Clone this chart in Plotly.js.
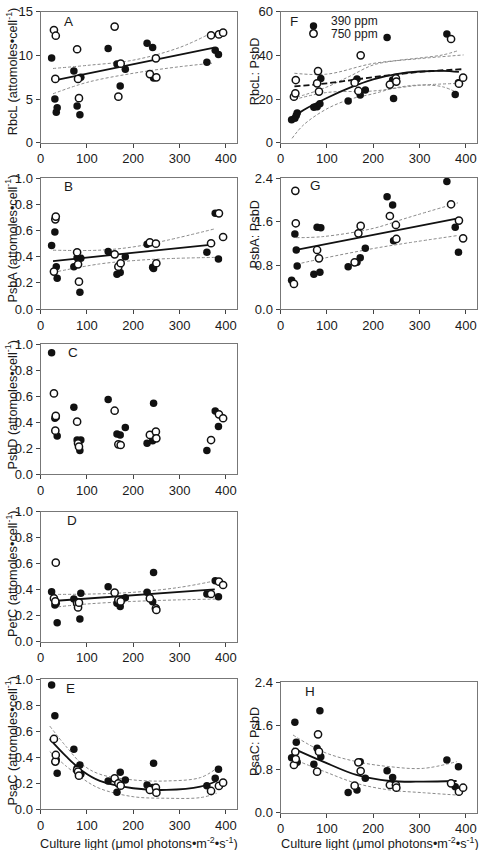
<!DOCTYPE html>
<html>
<head>
<meta charset="utf-8">
<script src="https://cdn.plot.ly/plotly-3.0.1.min.js"></script>
<style>
  html, body { margin: 0; padding: 0; background: #fff; }
  #chart { width: 485px; height: 850px; }
</style>
</head>
<body>
<div id="chart"></div>
<script>
// Culture light levels (umol photons m-2 s-1) of the samples grown at each CO2 level
const light390 = [24, 31, 34, 36, 72, 79, 85, 87, 146, 165, 172, 183, 230, 242, 244, 359, 377, 384];
const light750 = [29, 32, 33, 79, 81, 83, 160, 168, 173, 236, 249, 250, 368, 385, 394];

// Protein content per cell (attomoles cell-1), 390 ppm samples
const rbcL390 = [9.7, 5.0, 3.5, 4.0, 8.2, 4.2, 3.2, 7.5, 10.8, 9.0, 6.5, 8.4, 11.4, 10.9, 7.4, 9.2, 10.6, 10.1];
const psbA390 = [0.485, 0.59, 0.324, 0.235, 0.324, 0.393, 0.128, 0.388, 0.439, 0.265, 0.28, 0.40, 0.495, 0.32, 0.31, 0.434, 0.732, 0.383];
const psbD390 = [0.933, 0.43, 0.44, 0.294, 0.514, 0.263, 0.182, 0.263, 0.575, 0.309, 0.302, 0.36, 0.238, 0.258, 0.545, 0.182, 0.486, 0.366];
const petC390 = [0.385, 0.282, 0.295, 0.146, 0.328, 0.308, 0.174, 0.372, 0.423, 0.295, 0.27, 0.338, 0.38, 0.308, 0.533, 0.367, 0.469, 0.346];
const psaC390 = [0.956, 0.72, 0.38, 0.277, 0.462, 0.315, 0.341, 0.269, 0.218, 0.131, 0.285, 0.226, 0.187, 0.167, 0.354, 0.182, 0.238, 0.308];

// Protein content per cell (attomoles cell-1), 750 ppm samples
const rbcL750 = [12.9, 7.3, 12.25, 10.7, 7.3, 5.1, 13.3, 5.27, 9.05, 7.86, 9.66, 7.48, 12.3, 12.4, 12.6];
const psbA750 = [0.286, 0.686, 0.707, 0.434, 0.342, 0.209, 0.418, 0.324, 0.35, 0.51, 0.5, 0.35, 0.503, 0.732, 0.551];
const psbD750 = [0.621, 0.335, 0.448, 0.404, 0.238, 0.212, 0.488, 0.23, 0.225, 0.302, 0.327, 0.276, 0.263, 0.46, 0.43];
const petC750 = [0.333, 0.31, 0.608, 0.295, 0.264, 0.30, 0.377, 0.32, 0.31, 0.333, 0.256, 0.244, 0.367, 0.462, 0.436];
const psaC750 = [0.541, 0.367, 0.418, 0.303, 0.29, 0.259, 0.238, 0.2, 0.182, 0.149, 0.167, 0.128, 0.141, 0.18, 0.205];

// Ratios to PsbD
const rbcLpsbD390 = [10.5, 11.2, 12.5, 13.6, 16.2, 16.5, 17.8, 29.4, 19.1, 29.2, 21.8, 24.1, 48.2, 28.7, 20.3, 49.8, 22.1, 27.5];
const psbApsbD390 = [0.527, 1.378, 1.084, 0.79, 0.637, 1.5, 0.674, 1.494, 0.778, 0.857, 0.943, 1.115, 2.06, 1.91, 1.255, 2.34, 1.5, 1.04];
const psaCpsbD390 = [1.013, 1.664, 1.295, 0.927, 0.89, 1.185, 1.878, 1.03, 0.374, 0.417, 0.939, 0.632, 0.773, 0.65, null, 0.97, 0.479, 0.847];
const rbcLpsbD750 = [21.1, 22.6, 28.7, 27.2, 32.8, 23.4, 27.5, 23.7, 40.0, 26.6, 29.5, 28.0, 47.5, 27.0, 29.8];
const psbApsbD750 = [0.46, 2.17, 1.574, 1.084, null, 0.93, 0.857, 1.39, 1.525, 1.708, 1.543, 1.286, 1.923, 1.623, 1.298];
const psaCpsbD750 = [0.878, 1.12, 0.988, 0.755, 1.443, 1.123, 0.497, 0.927, 0.767, 0.51, 0.51, 0.46, 0.54, 0.387, 0.46];

// Regression fits with 95% confidence bands
const fitA_x = [30, 375],  fitA = [7.15, 10.9];
const bandA_x = [27, 100, 200, 300, 370];
const bandA_hi = [8.5, 8.85, 9.45, 10.9, 12.6];
const bandA_lo = [5.6, 6.9, 7.95, 8.7, 9.1];

const fitB_x = [27, 376], fitB = [0.367, 0.495];
const bandB_x = [27, 128, 200, 272, 378];
const bandB_hi = [0.45, 0.45, 0.475, 0.525, 0.615];
const bandB_lo = [0.28, 0.345, 0.37, 0.385, 0.395];

const fitD_x = [27, 376], fitD = [0.313, 0.403];
const bandD_x = [27, 100, 200, 300, 378];
const bandD_hi = [0.364, 0.366, 0.38, 0.418, 0.469];
const bandD_lo = [0.264, 0.29, 0.31, 0.322, 0.328];

const fitE_x = [20, 56, 92, 128, 200, 272, 345, 380];
const fitE = [0.54, 0.405, 0.29, 0.218, 0.162, 0.149, 0.174, 0.218];
const bandE_hi = [0.64, 0.48, 0.34, 0.27, 0.226, 0.218, 0.244, 0.315];
const bandE_lo = [0.444, 0.33, 0.233, 0.16, 0.097, 0.085, 0.09, 0.123];

const fitF390_x = [25, 50, 100, 150, 200, 250, 300, 350, 385];
const fitF390 = [11.2, 15, 20.5, 25.2, 29.0, 31.4, 32.6, 32.9, 32.4];
const bandF390_hi = [20.5, 21.8, 25.5, 30.5, 35.6, 37.6, 38.8, 40.2, 42.3];
const bandF390_lo = [2.0, 8.2, 15.5, 19.9, 22.4, 25.2, 26.4, 25.6, 22.5];
const fitF750_x = [30, 100, 200, 300, 395];
const fitF750 = [25.8, 27.2, 30.0, 32.4, 33.7];
const bandF750_hi = [31.8, 31.4, 36.3, 38.5, 40.2];
const bandF750_lo = [19.8, 23.0, 23.7, 26.3, 27.2];

const fitG_x = [34, 383], fitG = [1.084, 1.665];
const bandG_x = [34, 92, 200, 272, 383];
const bandG_hi = [1.31, 1.33, 1.48, 1.67, 1.95];
const bandG_lo = [0.82, 0.93, 1.11, 1.21, 1.35];

const fitH_x = [27, 92, 164, 236, 308, 380];
const fitH = [1.185, 0.94, 0.694, 0.583, 0.571, 0.583];
const bandH_hi = [1.43, 1.12, 0.94, 0.847, 0.816, 0.94];
const bandH_lo = [0.988, 0.767, 0.54, 0.417, 0.368, 0.325];

// Axis tick labels
const lightTicks = [0, 100, 200, 300, 400];

// ---------------------------------------------------------------
const W = 485, H = 850;
const px = v => v / W;
const py = v => 1 - v / H;
const FONT = '"Liberation Sans", Arial, Helvetica, sans-serif';
const INK = '#1a1a1a';

const filledMarker = { color: '#111', size: 7.5, line: { width: 0 } };
const openMarker = { color: '#fff', size: 7.2, line: { color: '#111', width: 1.5 } };
const fitLine = { color: '#111', width: 1.8 };
const bandLine = { color: '#8a8a8a', width: 1, dash: '3px,2px' };

const traces = [];
function pts(ax, x, y, marker) {
  traces.push({ type: 'scatter', mode: 'markers', x, y, xaxis: 'x' + ax, yaxis: 'y' + ax,
    marker, hoverinfo: 'skip', cliponaxis: false });
}
function line(ax, x, y, style) {
  traces.push({ type: 'scatter', mode: 'lines', x, y, xaxis: 'x' + ax, yaxis: 'y' + ax,
    line: Object.assign({ shape: 'spline', smoothing: 1 }, style), hoverinfo: 'skip' });
}

// A: RbcL
line('', bandA_x, bandA_hi, bandLine); line('', bandA_x, bandA_lo, bandLine);
line('', fitA_x, fitA, fitLine);
pts('', light390, rbcL390, filledMarker); pts('', light750, rbcL750, openMarker);
// B: PsbA
line('2', bandB_x, bandB_hi, bandLine); line('2', bandB_x, bandB_lo, bandLine);
line('2', fitB_x, fitB, fitLine);
pts('2', light390, psbA390, filledMarker); pts('2', light750, psbA750, openMarker);
// C: PsbD
pts('3', light390, psbD390, filledMarker); pts('3', light750, psbD750, openMarker);
// D: PetC
line('4', bandD_x, bandD_hi, bandLine); line('4', bandD_x, bandD_lo, bandLine);
line('4', fitD_x, fitD, fitLine);
pts('4', light390, petC390, filledMarker); pts('4', light750, petC750, openMarker);
// E: PsaC
line('5', fitE_x, bandE_hi, bandLine); line('5', fitE_x, bandE_lo, bandLine);
line('5', fitE_x, fitE, fitLine);
pts('5', light390, psaC390, filledMarker); pts('5', light750, psaC750, openMarker);
// F: RbcL:PsbD
line('6', fitF390_x, bandF390_hi, bandLine); line('6', fitF390_x, bandF390_lo, bandLine);
line('6', fitF750_x, bandF750_hi, bandLine); line('6', fitF750_x, bandF750_lo, bandLine);
line('6', fitF390_x, fitF390, fitLine);
line('6', fitF750_x, fitF750, { color: '#111', width: 1.8, dash: '6px,3px' });
pts('6', light390, rbcLpsbD390, filledMarker); pts('6', light750, rbcLpsbD750, openMarker);
// G: PsbA:PsbD
line('7', bandG_x, bandG_hi, bandLine); line('7', bandG_x, bandG_lo, bandLine);
line('7', fitG_x, fitG, fitLine);
pts('7', light390, psbApsbD390, filledMarker); pts('7', light750, psbApsbD750, openMarker);
// H: PsaC:PsbD
line('8', fitH_x, bandH_hi, bandLine); line('8', fitH_x, bandH_lo, bandLine);
line('8', fitH_x, fitH, fitLine);
pts('8', light390, psaCpsbD390, filledMarker); pts('8', light750, psaCpsbD750, openMarker);

// Panel geometry in pixels: [left, right, top, bottom]
const panels = {
  '':  { box: [40.5, 237, 11.7, 142.7], range: [0, 15],  dtick: 5,   fmt: 'd',   title: 'RbcL (attomoles•cell<sup>-1</sup>)', ty: 71.7, letter: 'A', lx: 68.3, ly: 21.7 },
  '2': { box: [40.5, 237, 178.3, 309],  range: [0, 1],   dtick: 0.2, fmt: '.1f', title: 'PsbA (attomoles•cell<sup>-1</sup>)', ty: 239, letter: 'B', lx: 68.3, ly: 186.7 },
  '3': { box: [40.5, 237, 344, 474.3],  range: [0, 1],   dtick: 0.2, fmt: '.1f', title: 'PsbD (attomoles•cell<sup>-1</sup>)', ty: 405, letter: 'C', lx: 73.3, ly: 352.7 },
  '4': { box: [40.5, 237, 511.7, 641.7], range: [0, 1],  dtick: 0.2, fmt: '.1f', title: 'PetC (attomoles•cell<sup>-1</sup>)', ty: 573.5, letter: 'D', lx: 71.7, ly: 520 },
  '5': { box: [40.5, 237, 679.3, 809.3], range: [0, 1],  dtick: 0.2, fmt: '.1f', title: 'PsaC (attomoles•cell<sup>-1</sup>)', ty: 741, letter: 'E', lx: 70, ly: 688.3 },
  '6': { box: [280.5, 477, 11.7, 142.7], range: [0, 60], dtick: 20,  fmt: 'd',   title: 'RbcL: PsbD', ty: 71.7, letter: 'F', lx: 294, ly: 21.7 },
  '7': { box: [280.5, 477, 178.3, 309],  range: [0, 2.4], dtick: 0.8, fmt: '.1f', title: 'PsbA: PsbD', ty: 235, letter: 'G', lx: 315, ly: 185.7 },
  '8': { box: [280.5, 477, 682.3, 812.7], range: [0, 2.4], dtick: 0.8, fmt: '.1f', title: 'PsaC: PsbD', ty: 741.5, letter: 'H', lx: 310, ly: 691.7 }
};

const layout = {
  width: W, height: H,
  margin: { l: 0, r: 0, t: 0, b: 0 },
  paper_bgcolor: '#fff', plot_bgcolor: '#fff',
  showlegend: false,
  font: { family: FONT, size: 13, color: INK },
  annotations: [], shapes: []
};

const axisCommon = {
  ticks: 'outside', ticklen: 4, tickwidth: 1, tickcolor: '#444',
  showline: true, mirror: true, linecolor: '#777', linewidth: 1,
  showgrid: false, zeroline: false, fixedrange: true,
  tickfont: { family: FONT, size: 13, color: INK }
};

for (const [k, p] of Object.entries(panels)) {
  const [l, r, t, b] = p.box;
  layout['xaxis' + k] = Object.assign({}, axisCommon, {
    domain: [px(l), px(r)], anchor: 'y' + k,
    range: [0, 424], tickmode: 'array', tickvals: lightTicks
  });
  layout['yaxis' + k] = Object.assign({}, axisCommon, {
    domain: [py(b), py(t)], anchor: 'x' + k,
    range: p.range, tick0: 0, dtick: p.dtick, tickformat: p.fmt
  });
  const left = l < 200;
  layout.annotations.push({
    xref: 'paper', yref: 'paper', x: px(left ? 11.5 : 254.5), y: py(p.ty),
    text: p.title, textangle: -90, showarrow: false,
    xanchor: 'center', yanchor: 'middle', font: { size: 12.7, color: INK }
  });
  layout.annotations.push({
    xref: 'paper', yref: 'paper', x: px(p.lx), y: py(p.ly),
    text: p.letter, showarrow: false, xanchor: 'center', yanchor: 'middle',
    font: { size: 13.5, color: INK }
  });
}

// Shared x-axis titles under the bottom panels
const xTitle = 'Culture light (μmol photons•m<sup>-2</sup>•s<sup>-1</sup>)';
layout.annotations.push({ xref: 'paper', yref: 'paper', x: px(138.5), y: py(842.5), text: xTitle,
  showarrow: false, xanchor: 'center', yanchor: 'middle', font: { size: 12.7, color: INK } });
layout.annotations.push({ xref: 'paper', yref: 'paper', x: px(380), y: py(842.5), text: xTitle,
  showarrow: false, xanchor: 'center', yanchor: 'middle', font: { size: 12.7, color: INK } });

// CO2 key inside panel F
function keySymbol(cx, cy, filled) {
  layout.shapes.push({
    type: 'circle', xref: 'paper', yref: 'paper',
    xsizemode: 'pixel', ysizemode: 'pixel', xanchor: px(cx), yanchor: py(cy),
    x0: -3.7, x1: 3.7, y0: -3.7, y1: 3.7,
    fillcolor: filled ? '#111' : '#fff',
    line: { color: '#111', width: filled ? 0 : 1.5 }
  });
}
keySymbol(313.5, 26, true);
keySymbol(313.5, 33.5, false);
layout.annotations.push({ xref: 'paper', yref: 'paper', x: px(329), y: py(21), text: '390 ppm',
  showarrow: false, xanchor: 'left', yanchor: 'middle', font: { size: 12, color: INK } });
layout.annotations.push({ xref: 'paper', yref: 'paper', x: px(329), y: py(34), text: '750 ppm',
  showarrow: false, xanchor: 'left', yanchor: 'middle', font: { size: 12, color: INK } });

Plotly.newPlot('chart', traces, layout, { staticPlot: true, displayModeBar: false });
</script>
</body>
</html>
